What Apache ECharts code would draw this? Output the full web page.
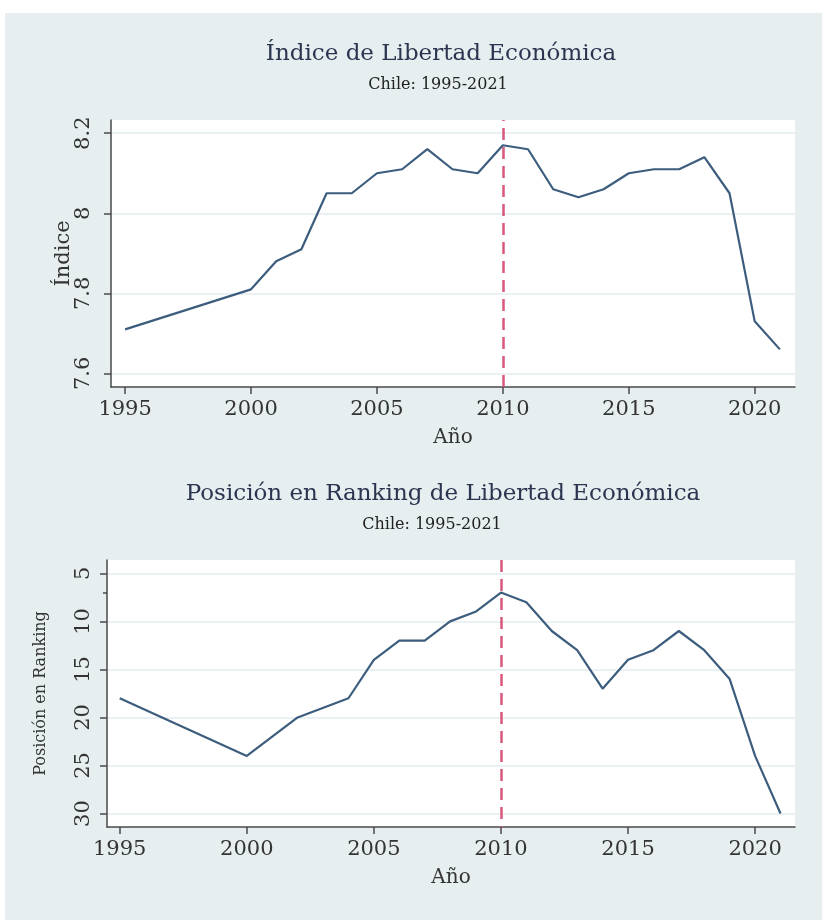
<!DOCTYPE html>
<html>
<head>
<meta charset="utf-8">
<script src="https://cdn.jsdelivr.net/npm/echarts@6/dist/echarts.min.js"></script>
<style>
html,body{margin:0;padding:0;background:#fff;}
#c{width:822px;height:920px;}
</style>
</head>
<body>
<div id="c"></div>
<script>
// ---- data ----
const indexYears = [1995, 2000, 2001, 2002, 2003, 2004, 2005, 2006, 2007, 2008, 2009, 2010, 2011, 2012, 2013, 2014, 2015, 2016, 2017, 2018, 2019, 2020, 2021];
const indexValues = [7.71, 7.81, 7.88, 7.91, 8.05, 8.05, 8.10, 8.11, 8.16, 8.11, 8.10, 8.17, 8.16, 8.06, 8.04, 8.06, 8.10, 8.11, 8.11, 8.14, 8.05, 7.73, 7.66];
const rankYears = [1995, 2000, 2002, 2004, 2005, 2006, 2007, 2008, 2009, 2010, 2011, 2012, 2013, 2014, 2015, 2016, 2017, 2018, 2019, 2020, 2021];
const rankValues = [18, 24, 20, 18, 14, 12, 12, 10, 9, 7, 8, 11, 13, 17, 14, 13, 11, 13, 16, 24, 30];
const yearTicks = [1995, 2000, 2005, 2010, 2015, 2020];
const indexTicks = [7.6, 7.8, 8, 8.2];
const rankTicks = [5, 10, 15, 20, 25, 30];
const rankExtraTicks = [7];
const refYear = [2010];

const title1 = 'Índice de Libertad Económica';
const title2 = 'Posición en Ranking de Libertad Económica';
const subtitle = 'Chile: 1995-2021';

// ---- styles ----
const SERIF = '"DejaVu Serif", "Liberation Serif", serif';
const LINE = '#3d5d7e';
const REF = '#d9587c';
const GRIDC = '#eaf1f3';
const AXISC = '#4a4a4a';
const TXT = '#333333';

const chart = echarts.init(document.getElementById('c'), null, {renderer: 'canvas'});

function xAxisCfg(gridIndex, min, max) {
  return {
    type: 'value', gridIndex, min, max,
    name: 'Año', nameLocation: 'middle', nameGap: 41,
    nameTextStyle: {fontFamily: SERIF, fontSize: 20, color: TXT},
    axisLine: {show: true, lineStyle: {color: AXISC, width: 1.5}},
    axisTick: {show: true, length: 7, lineStyle: {color: AXISC, width: 1.5}, customValues: yearTicks},
    axisLabel: {fontFamily: SERIF, fontSize: 21, color: TXT, margin: 12, customValues: yearTicks, formatter: v => String(v)},
    splitLine: {show: false}
  };
}

const option = {
  backgroundColor: '#ffffff',
  animation: false,
  graphic: [{
    type: 'rect', z: -10, silent: true,
    shape: {x: 5, y: 13, width: 817, height: 907},
    style: {fill: '#e6eef0'}
  }],
  title: [
    {text: title1, left: 436, top: 38, textAlign: 'center',
     textStyle: {fontFamily: SERIF, fontWeight: 'normal', fontSize: 23, color: '#2b3550'}},
    {text: subtitle, left: 433, top: 72, textAlign: 'center',
     textStyle: {fontFamily: SERIF, fontWeight: 'normal', fontSize: 16, color: '#222'}},
    {text: title2, left: 438, top: 478, textAlign: 'center',
     textStyle: {fontFamily: SERIF, fontWeight: 'normal', fontSize: 23, color: '#2b3550'}},
    {text: subtitle, left: 427, top: 512, textAlign: 'center',
     textStyle: {fontFamily: SERIF, fontWeight: 'normal', fontSize: 16, color: '#222'}}
  ],
  grid: [
    {left: 111, top: 120, right: 27, height: 267, show: true, backgroundColor: '#ffffff', borderWidth: 0},
    {left: 107, top: 560, right: 27, height: 267, show: true, backgroundColor: '#ffffff', borderWidth: 0}
  ],
  xAxis: [
    xAxisCfg(0, 1994.44, 2021.6),
    xAxisCfg(1, 1994.5, 2021.57)
  ],
  yAxis: [
    {
      type: 'value', gridIndex: 0, min: 7.566, max: 8.233, position: 'left',
      name: 'Índice', nameLocation: 'middle', nameGap: 37, nameRotate: 90, nameMoveOverlap: false,
      nameTextStyle: {fontFamily: SERIF, fontSize: 21, color: TXT},
      axisLine: {show: true, lineStyle: {color: AXISC, width: 1.5}},
      axisTick: {show: true, length: 7, lineStyle: {color: AXISC, width: 1.5}, customValues: indexTicks},
      axisLabel: {fontFamily: SERIF, fontSize: 21, color: TXT, rotate: 90, margin: 17, customValues: indexTicks,
                  formatter: v => String(Math.round(v * 10) / 10)},
      splitLine: {show: true, lineStyle: {color: GRIDC, width: 2}}
    },
    {
      type: 'value', gridIndex: 1, min: 3.61, max: 31.4, inverse: true, position: 'left',
      name: 'Posición en Ranking', nameLocation: 'middle', nameGap: 58, nameRotate: 90,
      nameTextStyle: {fontFamily: SERIF, fontSize: 16, color: TXT},
      axisLine: {show: true, lineStyle: {color: AXISC, width: 1.5}},
      axisTick: {show: true, length: 7, lineStyle: {color: AXISC, width: 1.5}, customValues: rankTicks},
      axisLabel: {fontFamily: SERIF, fontSize: 21, color: TXT, rotate: 90, margin: 13, customValues: rankTicks,
                  formatter: v => String(Math.round(v))},
      splitLine: {show: true, lineStyle: {color: GRIDC, width: 2}}
    },
    {
      type: 'value', gridIndex: 1, min: 3.61, max: 31.4, inverse: true, position: 'left', offset: 0,
      axisLine: {show: false},
      axisTick: {show: true, length: 4, lineStyle: {color: AXISC, width: 1.5}, customValues: rankExtraTicks},
      axisLabel: {show: false},
      splitLine: {show: false}
    }
  ],
  series: [
    {
      type: 'line', xAxisIndex: 0, yAxisIndex: 0,
      data: indexYears.map((y, i) => [y, indexValues[i]]),
      showSymbol: false, lineStyle: {color: LINE, width: 2.2}, z: 5,
      markLine: {
        silent: true, symbol: 'none', label: {show: false},
        lineStyle: {color: REF, width: 2.5, type: [12, 7]},
        data: refYear.map(v => ({xAxis: v}))
      }
    },
    {
      type: 'line', xAxisIndex: 1, yAxisIndex: 1,
      data: rankYears.map((y, i) => [y, rankValues[i]]),
      showSymbol: false, lineStyle: {color: LINE, width: 2.2}, z: 5,
      markLine: {
        silent: true, symbol: 'none', label: {show: false},
        lineStyle: {color: REF, width: 2.5, type: [12, 7]},
        data: refYear.map(v => ({xAxis: v}))
      }
    }
  ]
};
chart.setOption(option);
</script>
</body>
</html>
